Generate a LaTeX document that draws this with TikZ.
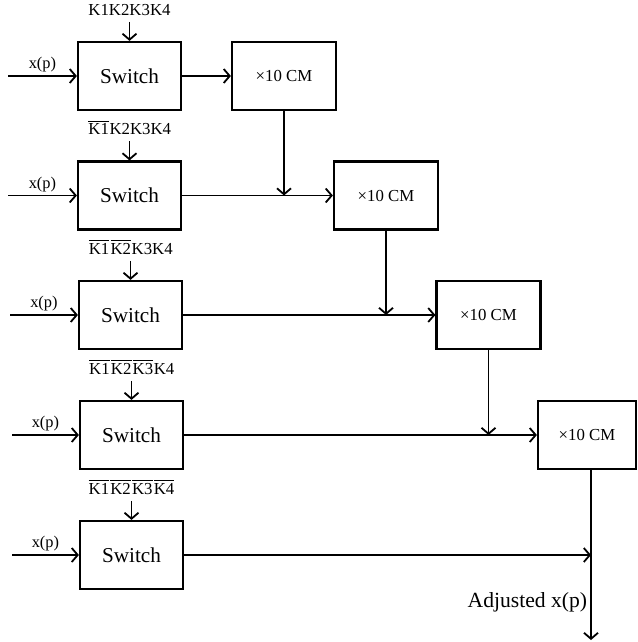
\documentclass[tikz,border=0pt]{standalone}
\usepackage{fontspec}
\setmainfont{Liberation Serif}
\usepackage{amsmath}
\usepackage{tikz}
\usetikzlibrary{arrows.meta,positioning,calc}
\newcommand{\nk}[1]{\kern0.3pt$\overline{\text{#1}}$\kern0.3pt}

\begin{document}
\begin{tikzpicture}[
  x=0.5pt, y=-0.5pt,
  >={Straight Barb[length=3pt,width=7pt]},
  line width=0.9pt,
  switch/.style={draw, line width=1.1pt, minimum width=51.5pt, minimum height=34pt,
    inner sep=0pt, font=\fontsize{10.6}{12}\selectfont},
  scaler/.style={draw, line width=1.1pt, minimum width=52pt, minimum height=34pt,
    inner sep=0pt, font=\fontsize{8.4}{10}\selectfont},
  ctrl/.style={font=\fontsize{8.4}{10}\selectfont, inner sep=2.8pt},
  sig/.style={above, inner sep=1.5pt, font=\fontsize{8.2}{10}\selectfont}
]
  \useasboundingbox (0,0) rectangle (637,642);

  \node[switch] (sw1) at (129.5,76) {Switch};
  \node[switch] (sw2) at (129.5,195.5) {Switch};
  \node[switch] (sw3) at (130.5,315) {Switch};
  \node[switch] (sw4) at (131.5,435) {Switch};
  \node[switch] (sw5) at (131.5,555) {Switch};

  \node[scaler] (cm1) at (284,76) {×10 CM};
  \node[scaler] (cm2) at (386,195.5) {×10 CM};
  \node[scaler] (cm3) at (488.5,315) {×10 CM};
  \node[scaler, minimum width=49pt] (cm4) at (587,435) {×10 CM};

  \node[ctrl, above=9.5pt of sw1] (k1) {K1K2K3K4};
  \node[ctrl, above=9.5pt of sw2] (k2) {\nk{K1}K2K3K4};
  \node[ctrl, above=9.5pt of sw3] (k3) {\nk{K1}\nk{K2}K3K4};
  \node[ctrl, above=9.5pt of sw4] (k4) {\nk{K1}\nk{K2}\nk{K3}K4};
  \node[ctrl, above=9.5pt of sw5] (k5) {\nk{K1}\nk{K2}\nk{K3}\nk{K4}};

  \coordinate (in1) at (8,76);
  \coordinate (in2) at (8,195.5);
  \coordinate (in3) at (10,315);
  \coordinate (in4) at (12,435);
  \coordinate (in5) at (12,555);
  \coordinate (j1) at (sw2.east -| cm1.south);
  \coordinate (j2) at (sw3.east -| cm2.south);
  \coordinate (j3) at (sw4.east -| cm3.south);
  \coordinate (j4) at (591,555);
  \coordinate (out) at (591,640);

  \foreach \i in {1,...,5} {
    \draw[->] (in\i) -- node[sig]{x(p)} (sw\i);
    \draw[->] (k\i) -- (sw\i);
  }

  \draw[->] (sw1) -- (cm1);
  \draw (sw2) -- (j1);
  \draw[->] (cm1) -- (j1);
  \draw[->] (j1) -- (cm2);
  \draw (sw3) -- (j2);
  \draw[->] (cm2) -- (j2);
  \draw[->] (j2) -- (cm3);
  \draw (sw4) -- (j3);
  \draw[->] (cm3) -- (j3);
  \draw[->] (j3) -- (cm4);
  \draw[->] (sw5) -- (j4);
  \draw[->] (cm4.south -| j4) -- (j4) -- node[pos=0.56, left, inner sep=1.5pt,
    font=\fontsize{10.8}{12}\selectfont]{Adjusted x(p)} (out);
\end{tikzpicture}
\end{document}
